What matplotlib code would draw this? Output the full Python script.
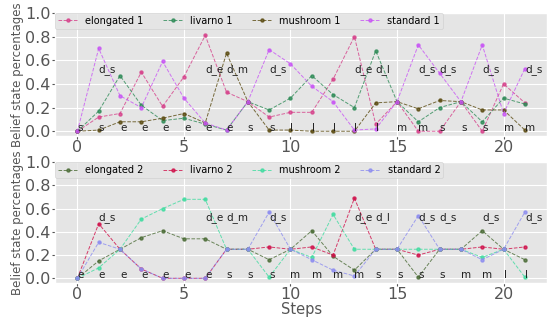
import numpy as np
import matplotlib
matplotlib.use("Agg")
import matplotlib.pyplot as plt

plt.style.use("ggplot")

steps = list(range(22))

# top panel (agent 1)
elongated_1 = [0.0, 0.12, 0.15, 0.50, 0.21, 0.46, 0.81, 0.33, 0.25, 0.12, 0.16,
               0.16, 0.44, 0.80, 0.06, 0.25, 0.0, 0.0, 0.25, 0.0, 0.40, 0.24]
livarno_1 = [0.0, 0.17, 0.47, 0.22, 0.09, 0.11, 0.06, 0.01, 0.25, 0.18, 0.28,
             0.47, 0.31, 0.20, 0.68, 0.25, 0.08, 0.20, 0.25, 0.08, 0.28, 0.23]
mushroom_1 = [0.0, 0.01, 0.08, 0.08, 0.11, 0.15, 0.07, 0.66, 0.25, 0.01, 0.01,
              0.0, 0.0, 0.0, 0.24, 0.25, 0.19, 0.26, 0.25, 0.18, 0.18, 0.01]
standard_1 = [0.0, 0.70, 0.30, 0.20, 0.59, 0.28, 0.07, 0.01, 0.25, 0.69, 0.57,
              0.38, 0.25, 0.01, 0.02, 0.25, 0.73, 0.49, 0.25, 0.73, 0.15, 0.53]

# bottom panel (agent 2)
elongated_2 = [0.0, 0.15, 0.25, 0.35, 0.41, 0.34, 0.34, 0.25, 0.25, 0.16, 0.25,
               0.41, 0.19, 0.07, 0.25, 0.25, 0.01, 0.25, 0.25, 0.41, 0.25, 0.16]
livarno_2 = [0.0, 0.47, 0.25, 0.08, 0.0, 0.0, 0.0, 0.25, 0.25, 0.27, 0.25,
             0.27, 0.20, 0.69, 0.25, 0.25, 0.20, 0.25, 0.25, 0.27, 0.25, 0.27]
mushroom_2 = [0.0, 0.09, 0.25, 0.51, 0.60, 0.68, 0.68, 0.25, 0.25, 0.01, 0.25,
              0.18, 0.55, 0.25, 0.25, 0.25, 0.25, 0.25, 0.25, 0.18, 0.25, 0.01]
standard_2 = [0.0, 0.31, 0.25, 0.08, 0.0, 0.0, 0.0, 0.25, 0.25, 0.57, 0.25,
              0.16, 0.07, 0.02, 0.25, 0.25, 0.54, 0.25, 0.25, 0.16, 0.25, 0.57]

# actions per step
actions_1 = ["s", "s", "e", "e", "e", "e", "e", "e", "s", "s", "l",
             "l", "l", "l", "l", "m", "m", "s", "s", "s", "m", "m"]
actions_2 = ["e", "e", "e", "e", "e", "e", "e", "s", "s", "s", "m",
             "m", "m", "m", "s", "s", "s", "s", "m", "m", "l", "l"]
decisions = {1: "d_s", 6: "d_e", 7: "d_m", 9: "d_s", 13: "d_e", 14: "d_l",
             16: "d_s", 17: "d_s", 19: "d_s", 21: "d_s"}

fig = plt.figure(figsize=(5.5, 3.23), dpi=100)
ax1 = fig.add_axes([0.1, 0.579, 0.895, 0.381])
ax2 = fig.add_axes([0.1, 0.124, 0.895, 0.374])

panels = [
    (ax1, [("elongated 1", elongated_1, "#d6408a"),
           ("livarno 1", livarno_1, "#2e8b57"),
           ("mushroom 1", mushroom_1, "#5a4a10"),
           ("standard 1", standard_1, "#c855f5")], actions_1),
    (ax2, [("elongated 2", elongated_2, "#4a6b35"),
           ("livarno 2", livarno_2, "#d0104a"),
           ("mushroom 2", mushroom_2, "#40dca0"),
           ("standard 2", standard_2, "#8c8cf0")], actions_2),
]

for ax, series, actions in panels:
    for name, vals, col in series:
        ax.plot(steps, vals, "--o", color=col, lw=0.7, ms=2.2, alpha=0.8, label=name)
    for i, a in enumerate(actions):
        ax.text(steps[i], 0.0, a, fontsize=7.5, color="#222222", ha="left", va="baseline")
    for i, d in decisions.items():
        ax.text(steps[i], 0.5, d, fontsize=7.5, color="#222222", ha="left", va="baseline")
    ax.set_ylim(-0.04, 1.0)
    ax.set_xlim(-1.05, 22.05)
    ax.set_xticks([0, 5, 10, 15, 20])
    ax.set_yticks([0.0, 0.2, 0.4, 0.6, 0.8, 1.0])
    ax.tick_params(labelsize=11.5, colors="#555555", length=2, pad=1)
    ax.set_ylabel("Belief state percentages", fontsize=8.5, color="#555555", labelpad=1)
    ax.legend(loc="upper left", ncol=4, fontsize=7, frameon=True, borderaxespad=0.0,
              handlelength=2.0, columnspacing=2.0, borderpad=0.3)

ax2.set_xlabel("Steps", fontsize=10.5, color="#555555", labelpad=0)

fig.savefig("out.png", dpi=100)
